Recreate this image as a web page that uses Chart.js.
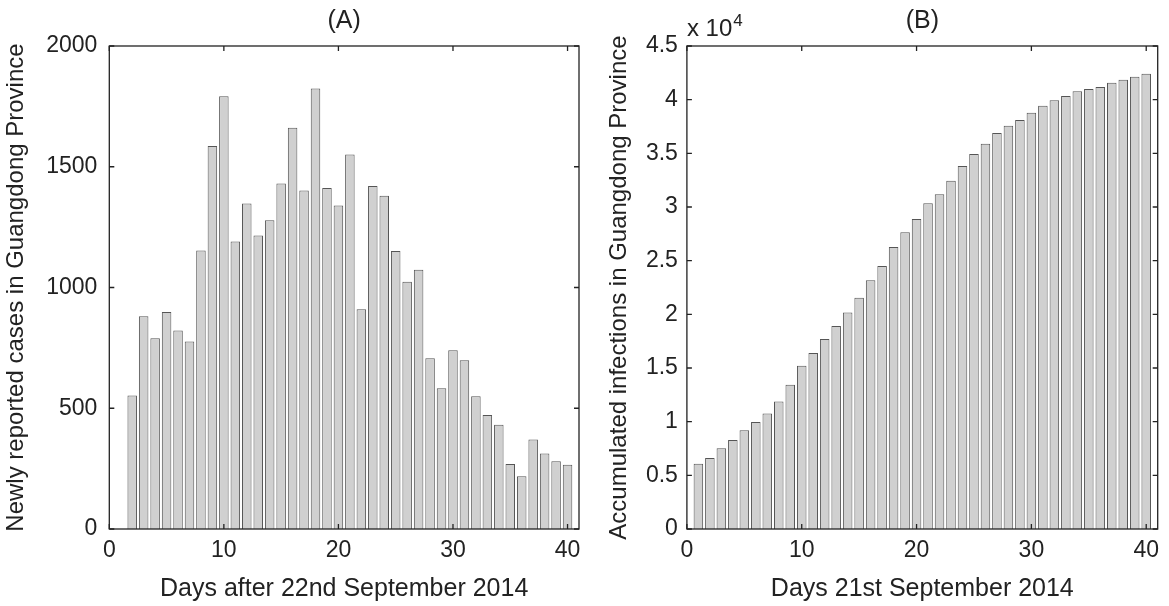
<!DOCTYPE html>
<html>
<head>
<meta charset="utf-8">
<script src="https://cdn.jsdelivr.net/npm/chart.js@4.4.0/dist/chart.umd.min.js"></script>
<style>
  body { margin: 0; background: #fff; }
  #wrap { position: relative; width: 1169px; height: 606px; }
  canvas { position: absolute; top: 0; }
</style>
</head>
<body>
<div id="wrap">
  <canvas id="chartA" width="600" height="606" style="left:0px"></canvas>
  <canvas id="chartB" width="569" height="606" style="left:600px"></canvas>
</div>
<script>
// (A) newly reported cases per day
var daysA = [2, 3, 4, 5, 6, 7, 8, 9, 10, 11, 12, 13, 14, 15, 16, 17, 18, 19, 20, 21,
             22, 23, 24, 25, 26, 27, 28, 29, 30, 31, 32, 33, 34, 35, 36, 37, 38, 39, 40];
var newCases = [553, 881, 790, 899, 822, 776, 1153, 1586, 1792, 1190, 1348, 1215, 1278, 1431, 1661, 1402, 1824, 1412, 1340, 1551,
                910, 1420, 1380, 1151, 1024, 1074, 707, 583, 740, 699, 550, 472, 432, 269, 218, 371, 313, 281, 266];

// (B) accumulated infections
var daysB = [1, 2, 3, 4, 5, 6, 7, 8, 9, 10, 11, 12, 13, 14, 15, 16, 17, 18, 19, 20,
             21, 22, 23, 24, 25, 26, 27, 28, 29, 30, 31, 32, 33, 34, 35, 36, 37, 38, 39, 40];
var accumulated = [6090, 6610, 7520, 8290, 9190, 9970, 10750, 11890, 13450, 15220, 16400, 17700, 18910, 20160, 21550, 23170, 24500, 26270, 27640, 28880,
                   30340, 31180, 32450, 33820, 34940, 35900, 36890, 37580, 38110, 38790, 39440, 39940, 40340, 40780, 40990, 41180, 41580, 41860, 42140, 42420];

var xTicks = [0, 10, 20, 30, 40];
var yTicksA = [0, 500, 1000, 1500, 2000];
var yTicksB = [0, 5000, 10000, 15000, 20000, 25000, 30000, 35000, 40000, 45000];
var yTickLabelsB = ['0', '0.5', '1', '1.5', '2', '2.5', '3', '3.5', '4', '4.5'];

Chart.defaults.font.family = "'Liberation Sans', Arial, sans-serif";
Chart.defaults.color = '#222';

// matlab style box with inward ticks on all four sides
var boxPlugin = {
  id: 'box',
  afterDatasetsDraw: function(chart) {
    var a = chart.chartArea, ctx = chart.ctx;
    var xs = chart.scales.x, ys = chart.scales.y;
    ctx.save();
    ctx.strokeStyle = '#222';
    ctx.lineWidth = 1.3;
    ctx.beginPath();
    xs.ticks.forEach(function(t) {
      var px = xs.getPixelForValue(t.value);
      ctx.moveTo(px, a.bottom); ctx.lineTo(px, a.bottom - 5);
      ctx.moveTo(px, a.top); ctx.lineTo(px, a.top + 5);
    });
    ys.ticks.forEach(function(t) {
      var py = ys.getPixelForValue(t.value);
      ctx.moveTo(a.left, py); ctx.lineTo(a.left + 5, py);
      ctx.moveTo(a.right, py); ctx.lineTo(a.right - 5, py);
    });
    ctx.stroke();
    ctx.strokeRect(a.left, a.top, a.right - a.left, a.bottom - a.top);
    ctx.restore();
  }
};

// "x 10^4" multiplier above panel B
var expPlugin = {
  id: 'exponent',
  afterDraw: function(chart) {
    var ctx = chart.ctx, a = chart.chartArea;
    ctx.save();
    ctx.fillStyle = '#222';
    ctx.textBaseline = 'alphabetic';
    ctx.font = "24px 'Liberation Sans', Arial, sans-serif";
    ctx.fillText('x 10', a.left, 36);
    var w = ctx.measureText('x 10').width;
    ctx.font = "17px 'Liberation Sans', Arial, sans-serif";
    ctx.fillText('4', a.left + w + 1, 26);
    ctx.restore();
  }
};

function makeChart(id, days, values, yMax, yTicks, yLabels, opt) {
  var pts = days.map(function(d, i) { return { x: d, y: values[i] }; });
  return new Chart(document.getElementById(id), {
    type: 'bar',
    data: {
      datasets: [{
        data: pts,
        backgroundColor: '#d0d0d0',
        borderColor: '#555',
        borderWidth: 1,
        barPercentage: 0.83,
        categoryPercentage: 1.0
      }]
    },
    options: {
      responsive: false,
      animation: false,
      layout: { padding: { left: 0, right: opt.padRight, top: 0, bottom: 0 } },
      plugins: {
        legend: { display: false },
        tooltip: { enabled: false }
      },
      scales: {
        x: {
          type: 'linear',
          min: 0,
          max: 41,
          offset: false,
          grid: { display: false, drawTicks: false },
          border: { display: false },
          afterBuildTicks: function(s) { s.ticks = xTicks.map(function(v) { return { value: v }; }); },
          afterFit: function(s) { s.height = 77; },
          ticks: { font: { size: 23 }, padding: 8, maxRotation: 0 },
          title: {
            display: true,
            text: opt.xTitle,
            font: { size: 25 },
            padding: { top: 0, bottom: 2 }
          }
        },
        // top axis only carries the panel title, centred over the plot box
        top: {
          type: 'linear',
          position: 'top',
          min: 0,
          max: 41,
          offset: false,
          grid: { display: false, drawTicks: false },
          border: { display: false },
          ticks: { display: false },
          afterFit: function(s) { s.height = 46; },
          title: {
            display: true,
            text: opt.title,
            font: { size: 25 },
            padding: { top: 6, bottom: 0 }
          }
        },
        y: {
          min: 0,
          max: yMax,
          grid: { display: false, drawTicks: false },
          border: { display: false },
          afterBuildTicks: function(s) { s.ticks = yTicks.map(function(v) { return { value: v }; }); },
          afterFit: function(s) { s.width = opt.yWidth; },
          ticks: {
            font: { size: 23 },
            padding: opt.yPad,
            callback: function(v, i) { return yLabels ? yLabels[i] : String(v); }
          },
          title: {
            display: true,
            text: opt.yTitle,
            font: { size: 24 },
            padding: { top: opt.yTitlePad, bottom: 0 }
          }
        }
      }
    },
    plugins: opt.extra ? [boxPlugin, opt.extra] : [boxPlugin]
  });
}

makeChart('chartA', daysA, newCases, 2000, yTicksA, null, {
  title: '(A)',
  xTitle: 'Days after 22nd September 2014',
  yTitle: 'Newly reported cases in Guangdong Province',
  padRight: 21,
  yWidth: 109.3,
  yPad: 12,
  yTitlePad: 1.6
});

makeChart('chartB', daysB, accumulated, 45000, yTicksB, yTickLabelsB, {
  title: '(B)',
  xTitle: 'Days 21st September 2014',
  yTitle: 'Accumulated infections in Guangdong Province',
  padRight: 11.3,
  yWidth: 86.9,
  yPad: 9,
  yTitlePad: 4.6,
  extra: expPlugin
});
</script>
</body>
</html>
